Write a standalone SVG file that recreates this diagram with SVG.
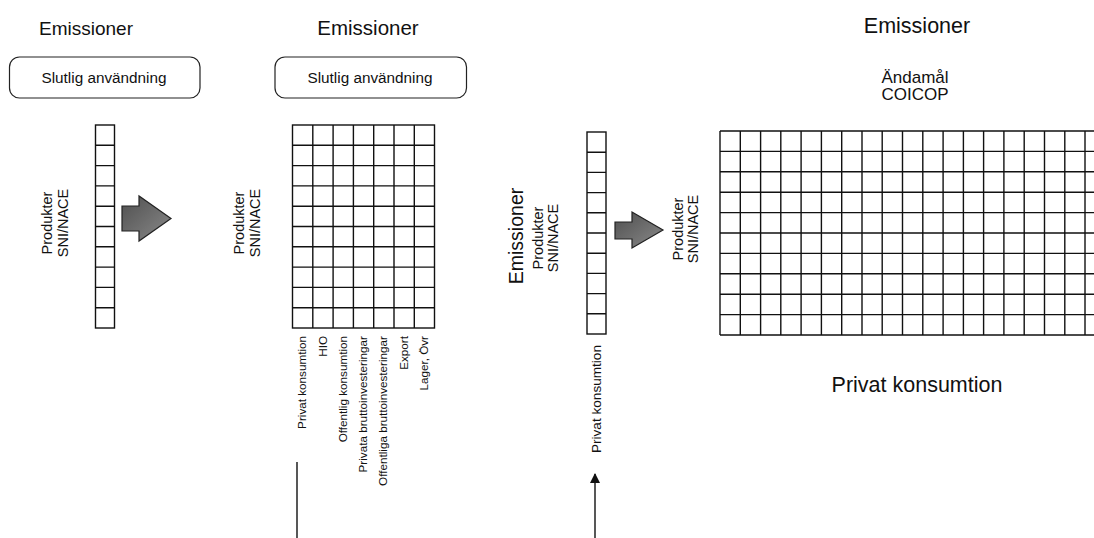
<svg xmlns="http://www.w3.org/2000/svg" width="1094" height="538" viewBox="0 0 1094 538">
<style>
text{font-family:"Liberation Sans",Arial,Helvetica,sans-serif;fill:#111}
.t{font-size:19px;text-anchor:middle}
.box{fill:#fff;stroke:#222;stroke-width:1.2}
.bt{font-size:15.3px;text-anchor:middle}
.grid{fill:none;stroke:#111;stroke-width:1.4}
.lab{font-size:14.5px;text-anchor:middle}
.sm{font-size:11.7px;text-anchor:end}
.blk{fill:url(#g);stroke:#222;stroke-width:1.2;stroke-linejoin:miter}
.ln{stroke:#111;stroke-width:1.4;fill:none}
</style>
<defs>
<linearGradient id="g" x1="0" y1="0" x2="1" y2="1">
<stop offset="0" stop-color="#4f4f4f"/>
<stop offset="1" stop-color="#8a8a8a"/>
</linearGradient>
<marker id="ah" viewBox="0 0 10 10" refX="9" refY="5" markerWidth="10" markerHeight="10" markerUnits="userSpaceOnUse" orient="auto">
<path d="M0,0 L10,5 L0,10 Z" fill="#111"/>
</marker>
</defs>

<g id="panel1">
<text class="t" x="86" y="35">Emissioner</text>
<g id="box1"><rect class="box" x="9.5" y="57" width="190.5" height="41" rx="10"/><text class="bt" x="104" y="83">Slutlig användning</text></g>
<g id="label1">
<text class="lab" transform="translate(52,223) rotate(-90)">Produkter</text>
<text class="lab" transform="translate(68,223) rotate(-90)">SNI/NACE</text>
</g>
<g id="column1">
<rect class="grid" x="95.5" y="125" width="19" height="203"/>
<path class="grid" d="M95.5 145.3H114.5M95.5 165.6H114.5M95.5 185.9H114.5M95.5 206.2H114.5M95.5 226.5H114.5M95.5 246.8H114.5M95.5 267.1H114.5M95.5 287.4H114.5M95.5 307.7H114.5"/>
</g>
</g>

<g id="panel2">
<text class="t" x="368" y="35" style="font-size:20.5px">Emissioner</text>
<g id="box2"><rect class="box" x="275" y="57" width="191.5" height="41" rx="10"/><text class="bt" x="370" y="83">Slutlig användning</text></g>
<g id="label2">
<text class="lab" transform="translate(244,223) rotate(-90)">Produkter</text>
<text class="lab" transform="translate(260,223) rotate(-90)">SNI/NACE</text>
</g>
<g id="matrix2">
<rect class="grid" x="292.5" y="125" width="142" height="203"/>
<path class="grid" d="M312.8 125V328M333.1 125V328M353.4 125V328M373.7 125V328M394 125V328M414.3 125V328
M292.5 145.3H434.5M292.5 165.6H434.5M292.5 185.9H434.5M292.5 206.2H434.5M292.5 226.5H434.5M292.5 246.8H434.5M292.5 267.1H434.5M292.5 287.4H434.5M292.5 307.7H434.5"/>
</g>
<g id="collabels">
<text class="sm" transform="translate(306,336) rotate(-90)">Privat konsumtion</text>
<text class="sm" transform="translate(326.5,336) rotate(-90)">HIO</text>
<text class="sm" transform="translate(346.8,336) rotate(-90)">Offentlig konsumtion</text>
<text class="sm" transform="translate(367.1,336) rotate(-90)">Privata bruttoinvesteringar</text>
<text class="sm" transform="translate(387.4,336) rotate(-90)">Offentliga bruttoinvesteringar</text>
<text class="sm" transform="translate(407.7,336) rotate(-90)">Export</text>
<text class="sm" transform="translate(428,336) rotate(-90)">Lager, Övr</text>
</g>
</g>

<g id="panel3">
<g id="label3">
<text class="t" transform="translate(523,236) rotate(-90)" style="font-size:19.5px">Emissioner</text>
<text class="lab" transform="translate(543,238) rotate(-90)">Produkter</text>
<text class="lab" transform="translate(558,238) rotate(-90)">SNI/NACE</text>
</g>
<g id="column3">
<rect class="grid" x="587" y="132" width="19" height="202"/>
<path class="grid" d="M587 152.2H606M587 172.4H606M587 192.6H606M587 212.8H606M587 233H606M587 253.2H606M587 273.4H606M587 293.6H606M587 313.8H606"/>
</g>
<text class="sm" transform="translate(601,345) rotate(-90)" style="font-size:13.6px">Privat konsumtion</text>
</g>

<g id="panel4">
<text class="t" x="917" y="33" style="font-size:21.5px">Emissioner</text>
<text class="t" x="915" y="83" style="font-size:17px">Ändamål</text>
<text class="t" x="915" y="100" style="font-size:17px">COICOP</text>
<g id="label4">
<text class="lab" transform="translate(683,229) rotate(-90)">Produkter</text>
<text class="lab" transform="translate(698,229) rotate(-90)">SNI/NACE</text>
</g>
<g id="matrix4">
<path class="grid" d="M720 131V335M740.3 131V335M760.6 131V335M780.8 131V335M801.1 131V335M821.4 131V335M841.7 131V335M862 131V335M882.2 131V335M902.5 131V335M922.8 131V335M943.1 131V335M963.4 131V335M983.6 131V335M1003.9 131V335M1024.2 131V335M1044.5 131V335M1064.8 131V335M1085 131V335
M720 131H1100M720 151.4H1100M720 171.8H1100M720 192.2H1100M720 212.6H1100M720 233H1100M720 253.4H1100M720 273.8H1100M720 294.2H1100M720 314.6H1100M720 335H1100"/>
</g>
<text class="t" x="917" y="392" style="font-size:21.5px">Privat konsumtion</text>
</g>

<g id="connectors">
<path class="blk" d="M122 206H139V196L171 218.5L139 241V231H122Z"/>
<path class="blk" d="M615 222H632V212L663 230L632 248V239H615Z"/>
<line class="ln" x1="297" y1="462" x2="297" y2="538"/>
<line class="ln" x1="595" y1="538" x2="595" y2="474" marker-end="url(#ah)"/>
</g>
</svg>
